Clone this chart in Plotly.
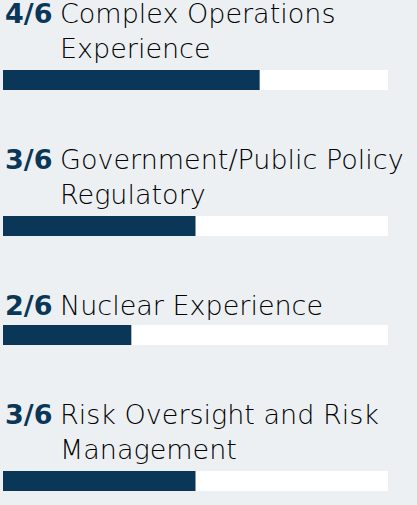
import plotly.graph_objects as go

# board skills matrix: how many of the 6 directors have each skill
skills = [
    "Complex Operations<br>Experience",
    "Government/Public Policy<br>Regulatory",
    "Nuclear Experience",
    "Risk Oversight and Risk<br>Management",
]
counts = [4, 3, 2, 3]
total = 6

navy = "#0a3758"
bg = "#ecf0f3"
font_size = 27
line_h = 37
bar_h = 20

# stack the blocks from the top, text block height depends on line count
bar_pos = []
text_pos = []
top = -6
for s in skills:
    n_lines = s.count("<br>") + 1
    text_pos.append(top + 2)
    bar_top = top + (n_lines - 1) * line_h + 39
    bar_pos.append(bar_top + bar_h / 2)
    top = bar_top + bar_h + 50

fig = go.Figure()
fig.add_trace(go.Bar(x=[total] * len(skills), y=bar_pos, orientation="h",
                     width=bar_h, marker=dict(color="white", line_width=0),
                     hoverinfo="skip"))
fig.add_trace(go.Bar(x=counts, y=bar_pos, orientation="h", width=bar_h,
                     marker=dict(color=navy, line_width=0)))

for s, c, y in zip(skills, counts, text_pos):
    # anchor inside the axis range (annotations outside it are dropped), then shift up
    fig.add_annotation(x=0, y=y + 10, yshift=10, xref="x", yref="y",
                       xanchor="left", yanchor="top",
                       text="<b>%d/%d</b>" % (c, total), showarrow=False, align="left",
                       font=dict(family="DejaVu Sans", size=font_size, color=navy))
    fig.add_annotation(x=0, y=y + 10, yshift=10, xref="x", yref="y",
                       xanchor="left", yanchor="top",
                       xshift=55, text=s, showarrow=False, align="left",
                       font=dict(family="DejaVu Sans", size=font_size, color="#000000",
                                 weight=200))

fig.update_layout(
    width=417, height=505,
    margin=dict(l=3, r=29, t=0, b=0),
    paper_bgcolor=bg, plot_bgcolor=bg,
    barmode="overlay", showlegend=False,
    xaxis=dict(range=[0, total], visible=False, fixedrange=True),
    yaxis=dict(range=[505, 0], visible=False, fixedrange=True),
)

# page body has a default 8px margin, drop it so the chart fills the window
fig.write_html("out.html", config={"displayModeBar": False},
               post_script="document.body.style.margin='0';")
